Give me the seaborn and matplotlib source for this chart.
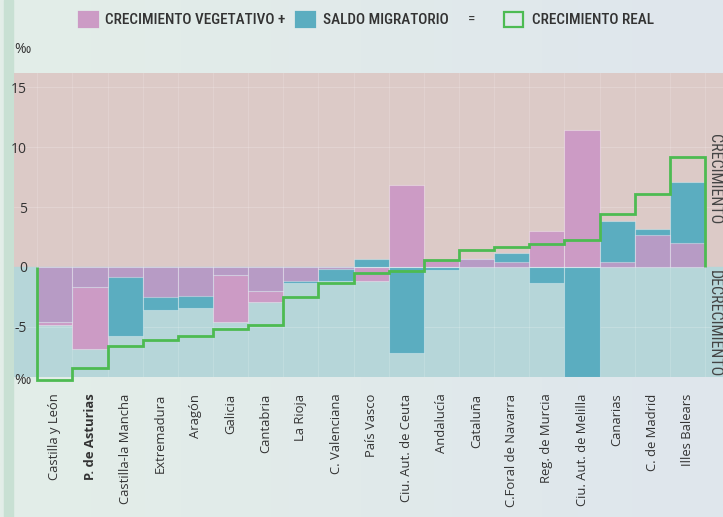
import numpy as np
import matplotlib
matplotlib.use('Agg')
from matplotlib import pyplot as plt
from matplotlib.patches import Rectangle
import pandas as pd
import seaborn as sns

regiones = ["Castilla y León", "P. de Asturias", "Castilla-la Mancha", "Extremadura", "Aragón",
            "Galicia", "Cantabria", "La Rioja", "C. Valenciana", "País Vasco",
            "Ciu. Aut. de Ceuta", "Andalucía", "Cataluña", "C.Foral de Navarra", "Reg. de Murcia",
            "Ciu. Aut. de Melilla", "Canarias", "C. de Madrid", "Illes Balears"]
vegetativo = [-4.85, -6.8, -0.8, -2.5, -2.4, -4.55, -2.95, -1.2, -0.2, -1.2,
              6.8, 0.6, 0.7, 0.45, 3.0, 11.4, 0.45, 2.65, 2.0]
migratorio = [-4.55, -1.7, -5.75, -3.6, -3.45, -0.7, -2.0, -1.3, -1.15, 0.7,
              -7.2, -0.25, 0.7, 1.15, -1.35, -9.15, 3.8, 3.2, 7.1]
real = [-9.4, -8.45, -6.6, -6.1, -5.75, -5.2, -4.85, -2.5, -1.35, -0.5,
        -0.35, 0.6, 1.4, 1.7, 1.9, 2.25, 4.4, 6.05, 9.2]
yticks = [15, 10, 5, 0, -5]

PINK = "#cc9bc5"
BLUE = "#5badc0"
PURPLE = "#b79bc5"
GREEN = "#4dbb52"
BG_UP = "#dccac7"
BG_DOWN = "#b6d6d9"
TXT = "#333333"

df = pd.DataFrame({"region": regiones, "veg": vegetativo, "mig": migratorio})
v = df["veg"].to_numpy()
m = df["mig"].to_numpy()
# part where both bars overlap (same sign) -> drawn in purple
df["overlap"] = np.where(np.sign(v) == np.sign(m), np.sign(v) * np.minimum(np.abs(v), np.abs(m)), 0.0)

sns.set_style("white")
plt.rcParams['font.family'] = ['Open Sans', 'DejaVu Sans']

fig = plt.figure(figsize=(7.23, 5.17), dpi=100)

# soft gradient background
bg = fig.add_axes([0, 0, 1, 1], zorder=-5)
grad = np.linspace(0, 1, 256)[None, :]
cmap = matplotlib.colors.LinearSegmentedColormap.from_list("bg", ["#e3eee8", "#dfe6ed"])
bg.imshow(grad, aspect="auto", cmap=cmap, extent=[0, 1, 0, 1])
bg.set_axis_off()
fig.patches.append(Rectangle((4 / 723, 0), 9 / 723, 1, transform=fig.transFigure,
                             color="#c8e0d3", zorder=-4))

ax = fig.add_axes([14 / 723, 1 - 377 / 517, 1 - 14 / 723, (377 - 73) / 517])
ax.set_facecolor("none")
ymin, ymax = -9.17, 16.17
ax.axhspan(0, ymax, color=BG_UP, zorder=0)
ax.axhspan(ymin, 0, color=BG_DOWN, zorder=0)
for yv in [15, 10, 5, -5]:
    ax.axhline(yv, color="white", alpha=0.18, lw=0.8, zorder=0.5)
for xe in np.arange(-0.5, len(regiones) + 0.5):
    ax.axvline(xe, color="white", alpha=0.15, lw=0.8, zorder=0.5)

kw = dict(x="region", data=df, width=1, ax=ax, edgecolor=(1, 1, 1, 0.35), linewidth=0.8, zorder=2)
sns.barplot(y="veg", color=PINK, saturation=1, **kw)
sns.barplot(y="mig", color=BLUE, saturation=1, **kw)
sns.barplot(y="overlap", color=PURPLE, saturation=1, **kw)

edges = np.arange(-0.5, len(regiones))
ax.stairs(real, edges, baseline=0, color=GREEN, lw=2, zorder=4, clip_on=False)

ax.set_xlim(-1.163, 19.01)
ax.set_ylim(ymin, ymax)
ax.set_yticks(yticks)
ax.set_yticklabels([str(t) for t in yticks], fontsize=10, color=TXT)
ax.tick_params(axis="y", length=0, pad=-9.5)
for lab in ax.get_yticklabels():
    lab.set_horizontalalignment("right")
ax.set_xticks(range(len(regiones)))
ax.set_xticklabels(regiones, rotation=90, fontsize=9.4, color=TXT)
ax.tick_params(axis="x", length=0, pad=12)
ax.get_xticklabels()[1].set_fontweight("bold")
ax.set_xlabel("")
ax.set_ylabel("")
for s in ax.spines.values():
    s.set_visible(False)

ax.text(0.0, -0.012, "‰", transform=ax.transAxes, fontsize=10, color=TXT, va="center", ha="left")
fig.text(14 / 723, 1 - 50 / 517, "‰", fontsize=10, color=TXT, va="center", ha="left")

cond = ["Roboto Condensed", "Roboto", "DejaVu Sans"]
ax.text(18.76, 11.1, "CRECIMIENTO", rotation=270, va="top", ha="center", fontsize=11.5,
        color="#444444", family=cond)
ax.text(18.76, -0.25, "DECRECIMIENTO", rotation=270, va="top", ha="center", fontsize=11.5,
        color="#444444", family=cond)

# legend
ly = 1 - 19.5 / 517
sq_h = 15 / 517
def sq(x0, face, edge=None):
    fig.patches.append(Rectangle((x0 / 723, ly - sq_h / 2), 19 / 723, sq_h, transform=fig.transFigure,
                                 facecolor=face, edgecolor=edge if edge else face, lw=1.6))
sq(79, PINK)
fig.text(105 / 723, ly, "CRECIMIENTO VEGETATIVO +", fontsize=11, color=TXT, va="center",
         family=cond, fontweight="medium")
sq(296, BLUE)
fig.text(323 / 723, ly, "SALDO MIGRATORIO", fontsize=11, color=TXT, va="center",
         family=cond, fontweight="medium")
fig.text(468 / 723, ly, "=", fontsize=11, color=TXT, va="center", family=cond)
sq(504, "none", GREEN)
fig.text(532 / 723, ly, "CRECIMIENTO REAL", fontsize=11, color=TXT, va="center",
         family=cond, fontweight="medium")

plt.savefig("out.png", dpi=100)
